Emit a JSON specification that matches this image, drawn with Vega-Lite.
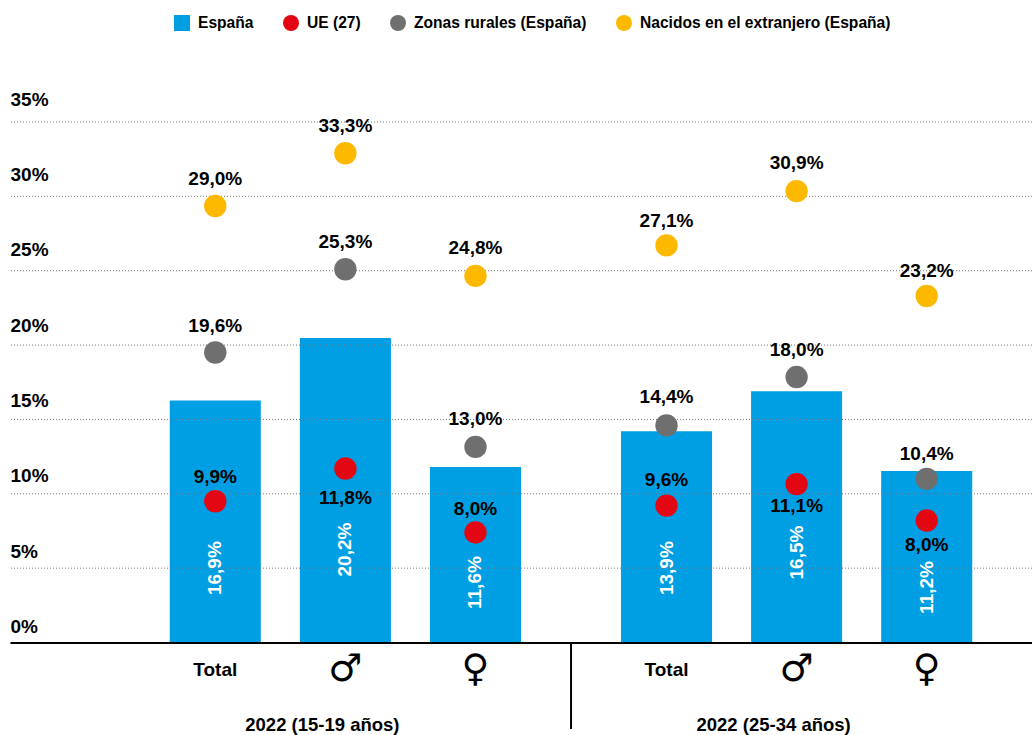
{
"$schema":"https://vega.github.io/schema/vega-lite/v6.json",
"width":1022,"height":520.5,
"autosize":{"type":"none"},
"padding":{"left":10,"top":122,"right":0,"bottom":92},
"background":"white",
"config":{"view":{"stroke":null},"font":"Liberation Sans"},
"data":{"values":[
{"grupo":"2022 (15-19 años)","categoria":"Total","serie":"España","valor":16.27,"etiqueta":"16,9%","y_etiqueta":5.0},
{"grupo":"2022 (15-19 años)","categoria":"♂","serie":"España","valor":20.48,"etiqueta":"20,2%","y_etiqueta":6.25},
{"grupo":"2022 (15-19 años)","categoria":"♀","serie":"España","valor":11.8,"etiqueta":"11,6%","y_etiqueta":4.03},
{"grupo":"2022 (25-34 años)","categoria":"Total","serie":"España","valor":14.2,"etiqueta":"13,9%","y_etiqueta":5.0},
{"grupo":"2022 (25-34 años)","categoria":"♂","serie":"España","valor":16.9,"etiqueta":"16,5%","y_etiqueta":6.05},
{"grupo":"2022 (25-34 años)","categoria":"♀","serie":"España","valor":11.53,"etiqueta":"11,2%","y_etiqueta":3.7},
{"grupo":"2022 (15-19 años)","categoria":"Total","serie":"UE (27)","valor":9.5,"etiqueta":"9,9%","y_etiqueta":11.1},
{"grupo":"2022 (15-19 años)","categoria":"♂","serie":"UE (27)","valor":11.7,"etiqueta":"11,8%","y_etiqueta":9.75},
{"grupo":"2022 (15-19 años)","categoria":"♀","serie":"UE (27)","valor":7.4,"etiqueta":"8,0%","y_etiqueta":9.0},
{"grupo":"2022 (25-34 años)","categoria":"Total","serie":"UE (27)","valor":9.2,"etiqueta":"9,6%","y_etiqueta":10.9},
{"grupo":"2022 (25-34 años)","categoria":"♂","serie":"UE (27)","valor":10.65,"etiqueta":"11,1%","y_etiqueta":9.15},
{"grupo":"2022 (25-34 años)","categoria":"♀","serie":"UE (27)","valor":8.2,"etiqueta":"8,0%","y_etiqueta":6.55},
{"grupo":"2022 (15-19 años)","categoria":"Total","serie":"Zonas rurales (España)","valor":19.5,"etiqueta":"19,6%","y_etiqueta":21.3},
{"grupo":"2022 (15-19 años)","categoria":"♂","serie":"Zonas rurales (España)","valor":25.1,"etiqueta":"25,3%","y_etiqueta":26.95},
{"grupo":"2022 (15-19 años)","categoria":"♀","serie":"Zonas rurales (España)","valor":13.15,"etiqueta":"13,0%","y_etiqueta":15.0},
{"grupo":"2022 (25-34 años)","categoria":"Total","serie":"Zonas rurales (España)","valor":14.6,"etiqueta":"14,4%","y_etiqueta":16.5},
{"grupo":"2022 (25-34 años)","categoria":"♂","serie":"Zonas rurales (España)","valor":17.85,"etiqueta":"18,0%","y_etiqueta":19.7},
{"grupo":"2022 (25-34 años)","categoria":"♀","serie":"Zonas rurales (España)","valor":11.0,"etiqueta":"10,4%","y_etiqueta":12.7},
{"grupo":"2022 (15-19 años)","categoria":"Total","serie":"Nacidos en el extranjero (España)","valor":29.35,"etiqueta":"29,0%","y_etiqueta":31.2},
{"grupo":"2022 (15-19 años)","categoria":"♂","serie":"Nacidos en el extranjero (España)","valor":32.9,"etiqueta":"33,3%","y_etiqueta":34.75},
{"grupo":"2022 (15-19 años)","categoria":"♀","serie":"Nacidos en el extranjero (España)","valor":24.65,"etiqueta":"24,8%","y_etiqueta":26.5},
{"grupo":"2022 (25-34 años)","categoria":"Total","serie":"Nacidos en el extranjero (España)","valor":26.7,"etiqueta":"27,1%","y_etiqueta":28.35},
{"grupo":"2022 (25-34 años)","categoria":"♂","serie":"Nacidos en el extranjero (España)","valor":30.35,"etiqueta":"30,9%","y_etiqueta":32.25},
{"grupo":"2022 (25-34 años)","categoria":"♀","serie":"Nacidos en el extranjero (España)","valor":23.3,"etiqueta":"23,2%","y_etiqueta":25.0}
]},
"encoding":{
"x":{"field":"grupo","type":"nominal","sort":null,
 "scale":{"paddingInner":0.135,"paddingOuter":0.2,"align":0.777},
 "axis":{"title":null,"ticks":false,"labelAngle":0,"labelFontSize":18.5,"labelFontWeight":"bold","labelColor":"#000","labelPadding":73,"labelOffset":-23,"domainColor":"#000","domainWidth":2,"grid":false,"zindex":1}},
"xOffset":{"field":"categoria","type":"nominal","sort":["Total","♂","♀"],"scale":{"paddingInner":0.3,"paddingOuter":0.15}},
"y":{"type":"quantitative","scale":{"domain":[0,35],"nice":false}}
},
"layer":[
{"mark":{"type":"bar"},
 "transform":[{"filter":"datum.serie==='España'"}],
 "encoding":{"y":{"field":"valor","type":"quantitative","scale":{"domain":[0,35],"nice":false},
  "axis":{"title":null,"grid":false,"domain":false,"ticks":false,"values":[0,5,10,15,20,25,30,35],"labelExpr":"datum.value+'%'","labelAlign":"left","labelPadding":0,"labelFontSize":19,"labelFontWeight":"bold","labelColor":"#000","labelBaseline":"alphabetic","labelOffset":{"expr":"-10-datum.value*0.2"}}},
  "color":{"field":"serie","type":"nominal","legend":{"title":null,"orient":"none","legendX":163,"legendY":-108,"direction":"horizontal","columns":4,"gridAlign":"each","symbolSize":256,"symbolOpacity":1,"labelFontSize":15.6,"labelFontWeight":"bold","labelColor":"#000","labelOffset":7,"columnPadding":26,"labelLimit":400},"scale":{"domain":["España","UE (27)","Zonas rurales (España)","Nacidos en el extranjero (España)"],"range":["#009FE3","#E30613","#706F6F","#FDB900"]}}}},
{"data":{"values":[{"linea":5},{"linea":10},{"linea":15},{"linea":20},{"linea":25},{"linea":30},{"linea":35}]},
 "mark":{"type":"rule","color":"#777","strokeWidth":1,"strokeDash":[1,2]},
 "encoding":{"x":null,"xOffset":null,"y":{"field":"linea","type":"quantitative"}}},
{"transform":[{"filter":"datum.serie!=='España'"}],
 "mark":{"type":"point","filled":true,"opacity":1,"size":500},
 "encoding":{"y":{"field":"valor","type":"quantitative"},
  "color":{"field":"serie","type":"nominal","legend":{"title":null,"orient":"none","legendX":163,"legendY":-108,"direction":"horizontal","columns":4,"gridAlign":"each","symbolSize":256,"symbolOpacity":1,"labelFontSize":15.6,"labelFontWeight":"bold","labelColor":"#000","labelOffset":7,"columnPadding":26,"labelLimit":400},
   "scale":{"domain":["España","UE (27)","Zonas rurales (España)","Nacidos en el extranjero (España)"],"range":["#009FE3","#E30613","#706F6F","#FDB900"]}},
  "shape":{"field":"serie","type":"nominal","scale":{"domain":["España","UE (27)","Zonas rurales (España)","Nacidos en el extranjero (España)"],"range":["square","circle","circle","circle"]}}}},
{"transform":[{"filter":"datum.serie!=='España'"}],
 "mark":{"type":"text","fontSize":19,"fontWeight":"bold","color":"#000","baseline":"middle"},
 "encoding":{"y":{"field":"y_etiqueta","type":"quantitative"},"text":{"field":"etiqueta"}}},
{"transform":[{"filter":"datum.serie==='España'"}],
 "mark":{"type":"text","fontSize":19,"fontWeight":"bold","color":"#fff","angle":270,"baseline":"middle","xOffset":1},
 "encoding":{"y":{"field":"y_etiqueta","type":"quantitative"},"text":{"field":"etiqueta"}}},
{"transform":[{"filter":"datum.serie==='España' && datum.categoria==='Total'"}],
 "mark":{"type":"text","fontSize":19,"fontWeight":"bold","color":"#000","baseline":"middle","yOffset":27},
 "encoding":{"y":{"datum":0},"text":{"field":"categoria"}}},
{"transform":[{"filter":"datum.serie==='España' && datum.categoria!=='Total'"}],
 "mark":{"type":"text","font":"DejaVu Sans","fontSize":38,"color":"#000","baseline":"middle","yOffset":27},
 "encoding":{"y":{"datum":0},"text":{"field":"categoria"}}},
{"data":{"values":[{"grupo":"2022 (15-19 años)"}]},
 "mark":{"type":"rule","color":"#000","strokeWidth":2,"xOffset":30.5},
 "encoding":{"x":{"field":"grupo","type":"nominal","bandPosition":1},"xOffset":null,"y":{"value":520.5},"y2":{"value":607}}}
]
}
